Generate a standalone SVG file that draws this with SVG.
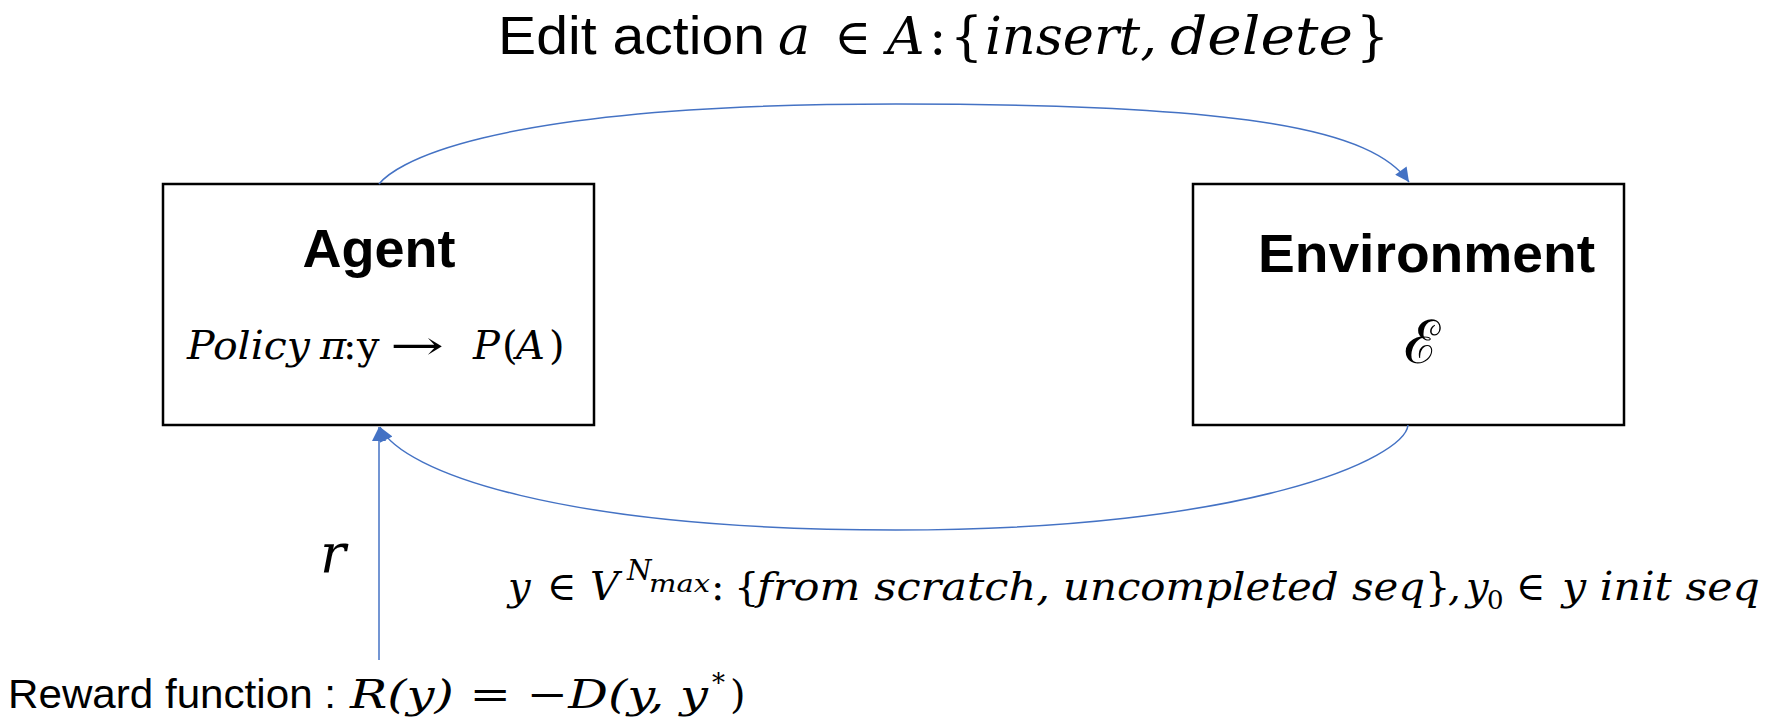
<svg xmlns="http://www.w3.org/2000/svg" width="1778" height="721" viewBox="0 0 1778 721">
<style>
.box{fill:#fff;stroke:#000;stroke-width:2.5}
.lbl{font-family:"Liberation Sans",Arial,sans-serif;font-weight:bold;font-size:54px;fill:#000}
.sans{font-family:"Liberation Sans",Arial,sans-serif;fill:#000}
.mi{font-family:"DejaVu Serif",serif;font-style:italic;fill:#000}
.mu{font-family:"DejaVu Serif",serif;fill:#000}
.conn{fill:none;stroke:#4472C4;stroke-width:1.5}
</style>
<defs>
<marker id="ah" viewBox="0 0 10 10" refX="10" refY="5" markerWidth="16" markerHeight="14" markerUnits="userSpaceOnUse" orient="auto">
<path d="M0,0 L10,5 L0,10 z" fill="#4472C4"/>
</marker>
</defs>
<rect width="1778" height="721" fill="#fff"/>

<g id="title">
<text class="sans" x="498" y="54" font-size="54" textLength="267" lengthAdjust="spacingAndGlyphs">Edit action</text>
<text class="mi" x="778" y="54" font-size="54">a</text>
<text class="mu" x="834" y="54" font-size="50">∈</text>
<text class="mi" x="887" y="54" font-size="52">A</text>
<text class="mu" x="929" y="54" font-size="52">:</text>
<text class="mu" x="950" y="54" font-size="52">{</text>
<text class="mi" x="985" y="54" font-size="52" textLength="172" lengthAdjust="spacingAndGlyphs">insert,</text>
<text class="mi" x="1170" y="54" font-size="52" textLength="183" lengthAdjust="spacingAndGlyphs">delete</text>
<text class="mu" x="1356" y="54" font-size="52">}</text>
</g>

<g id="agent">
<rect class="box" x="163" y="184" width="431" height="241"/>
<text class="lbl" x="379" y="267" text-anchor="middle">Agent</text>
<text class="mi" x="187" y="359" font-size="40" textLength="123" lengthAdjust="spacingAndGlyphs">Policy</text>
<text class="mi" x="320" y="359" font-size="40">π</text>
<text class="mu" x="343" y="359" font-size="40">:</text>
<text class="mu" x="357" y="359" font-size="40">y</text>
<text class="mu" x="390" y="359" font-size="40" textLength="54" lengthAdjust="spacingAndGlyphs">→</text>
<text class="mi" x="473" y="359" font-size="40">P</text>
<text class="mu" x="502" y="359" font-size="40">(</text>
<text class="mi" x="516" y="359" font-size="40">A</text>
<text class="mu" x="549" y="359" font-size="40">)</text>
</g>

<g id="environment">
<rect class="box" x="1193" y="184" width="431" height="241"/>
<text class="lbl" x="1258" y="272" textLength="337" lengthAdjust="spacingAndGlyphs">Environment</text>
<text class="mu" x="1422" y="363" font-size="60" text-anchor="middle">ℰ</text>
</g>

<g id="reward-label">
<text class="sans" x="8" y="708" font-size="40" textLength="328" lengthAdjust="spacingAndGlyphs">Reward function :</text>
<text class="mi" x="350" y="708" font-size="40" textLength="358" lengthAdjust="spacingAndGlyphs">R(y) = −D(y, y</text>
<text class="mu" x="712" y="692" font-size="26">*</text>
<text class="mu" x="730" y="708" font-size="40">)</text>
</g>

<g id="r-label">
<text class="mi" x="333" y="572" font-size="54" text-anchor="middle">r</text>
</g>

<g id="state-label">
<text class="mi" x="508" y="600" font-size="40">y</text>
<text class="mu" x="547" y="600" font-size="40">∈</text>
<text class="mi" x="590" y="600" font-size="40">V</text>
<text class="mi" x="627" y="580" font-size="28">N</text>
<text class="mi" x="649" y="592" font-size="24" textLength="61" lengthAdjust="spacingAndGlyphs">max</text>
<text class="mu" x="711" y="600" font-size="40">:</text>
<text class="mu" x="734" y="600" font-size="40">{</text>
<text class="mi" x="757" y="600" font-size="40" textLength="293" lengthAdjust="spacingAndGlyphs">from scratch,</text>
<text class="mi" x="1063" y="600" font-size="40" textLength="362" lengthAdjust="spacingAndGlyphs">uncompleted seq</text>
<text class="mu" x="1425" y="600" font-size="40">}</text>
<text class="mi" x="1448" y="600" font-size="40">,</text>
<text class="mi" x="1466" y="600" font-size="40">y</text>
<text class="mu" x="1487" y="609" font-size="26">0</text>
<text class="mu" x="1516" y="600" font-size="40">∈</text>
<text class="mi" x="1562" y="600" font-size="40" textLength="198" lengthAdjust="spacingAndGlyphs">y init seq</text>
</g>

<g id="connectors">
<path class="conn" d="M379 184 C392 168 470 104 896 104 C1250 104 1372 130 1409 182" marker-end="url(#ah)"/>
<path class="conn" d="M1408 425 C1405 458 1250 530 896 530 C560 530 402 472 380 427" marker-end="url(#ah)"/>
<path class="conn" d="M379 660 L379 427" marker-end="url(#ah)"/>
</g>
</svg>
